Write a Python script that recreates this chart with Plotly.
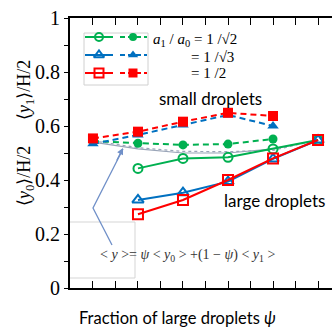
import plotly.graph_objects as go

# ---------------- data ----------------
psi = [0.0, 0.2, 0.4, 0.6, 0.8, 1.0]

# large droplets <y0>/(H/2)  (solid lines, open markers)
y0_green = [None, 0.443, 0.480, 0.484, 0.515, 0.548]
y0_blue = [None, 0.326, 0.353, 0.394, 0.478, 0.548]
y0_red = [None, 0.273, 0.326, 0.400, 0.480, 0.548]

# small droplets <y1>/(H/2)  (dashed lines, filled markers)
y1_green = [0.544, 0.536, 0.530, 0.533, 0.552, None]
y1_blue = [0.534, 0.567, 0.604, 0.641, 0.600, None]
y1_red = [0.554, 0.579, 0.616, 0.649, 0.637, None]

# mixture average <y> (thin grey lines)
avg_a = [0.540, 0.515, 0.500, 0.500, 0.515, 0.548]
avg_b = [0.545, 0.520, 0.506, 0.505, 0.510, 0.548]

ytick_vals = [0, 0.1, 0.2, 0.3, 0.4, 0.5, 0.6, 0.7, 0.8, 0.9, 1.0]
ytick_text = ["0", "", "0.2", "", "0.4", "", "0.6", "", "0.8", "", "1"]

legend_labels = ["<i>a</i><sub>1</sub> / <i>a</i><sub>0</sub> = 1 /√2", "= 1 /√3", "= 1 /2"]

GREEN = "#00b050"
BLUE = "#0070c0"
RED = "#ff0000"
GREY = "#9aa5b8"
ARROW = "#7090c8"

W, H = 332, 330
L, T, B = 70, 18, 42
PW, PH = W - L, H - T - B


def px(x):
    return (x - L) / PW


def py(y):
    return (H - B - y) / PH


fig = go.Figure()

# average lines
fig.add_trace(go.Scatter(x=psi, y=avg_a, mode="lines", line=dict(color=GREY, width=1.2), showlegend=False))
fig.add_trace(go.Scatter(x=psi, y=avg_b, mode="lines", line=dict(color=GREY, width=1.2, dash="dot"), showlegend=False))

series = [
    (y1_green, y0_green, GREEN, "circle", 9),
    (y1_blue, y0_blue, BLUE, "triangle-up", 10),
    (y1_red, y0_red, RED, "square", 10),
]
for y1, y0, col, sym, sz in series:
    fig.add_trace(go.Scatter(x=psi, y=y1, mode="lines+markers",
                             line=dict(color=col, width=2, dash="6px,4px"),
                             marker=dict(symbol=sym, size=sz, color=col, line=dict(width=0)),
                             showlegend=False, connectgaps=False))
for y1, y0, col, sym, sz in series:
    fig.add_trace(go.Scatter(x=psi, y=y0, mode="lines+markers",
                             line=dict(color=col, width=2),
                             marker=dict(symbol=sym + "-open", size=sz, color=col, line=dict(width=2, color=col)),
                             showlegend=False, connectgaps=False))

# ---------- manual legend on an overlay axis in pixel units ----------
leg_rows = [37, 55, 73]
for (y1, y0, col, sym, sz), ry in zip(series, leg_rows):
    fig.add_trace(go.Scatter(x=[85, 99, 113], y=[ry] * 3, xaxis="x2", yaxis="y2",
                             mode="lines", line=dict(color=col, width=2), showlegend=False))
    fig.add_trace(go.Scatter(x=[99], y=[ry], xaxis="x2", yaxis="y2", mode="markers",
                             marker=dict(symbol=sym + "-open", size=sz - 1, color=col,
                                         line=dict(width=2, color=col)), showlegend=False))
    fig.add_trace(go.Scatter(x=[120, 147], y=[ry] * 2, xaxis="x2", yaxis="y2",
                             mode="lines", line=dict(color=col, width=2, dash="5px,3px"), showlegend=False))
    fig.add_trace(go.Scatter(x=[133], y=[ry], xaxis="x2", yaxis="y2", mode="markers",
                             marker=dict(symbol=sym, size=sz - 1, color=col), showlegend=False))

P = dict(xref="x2", yref="y2")
Q = dict(xref="paper", yref="paper")
shapes = [
    dict(type="rect", x0=84, x1=148, y0=85, y1=33, line=dict(color="#d0d0d0", width=1), layer="below", **P),
    dict(type="path", path=f"M {px(70)} {py(222)} L {px(135)} {py(222)} L {px(135)} {py(278)} L {px(70)} {py(278)}",
         line=dict(color="#d5d5d5", width=1), layer="below", **Q),
    dict(type="path", path="M 112 245 L 93 208 L 123 149", line=dict(color=ARROW, width=1.3), **P),
]

serif = "Liberation Serif"
sans = "Lato"


def txt(x, y, text, font, size, xanchor="center", angle=0, color="black"):
    return dict(x=px(x), y=py(y), text=text, showarrow=False, xanchor=xanchor, yanchor="middle",
                textangle=angle, font=dict(family=font, size=size, color=color), **Q)


annotations = [
    dict(x=123, y=148, ax=116, ay=162, axref="x2", ayref="y2", text="", showarrow=True, arrowhead=2,
         arrowsize=1, arrowwidth=1.3, arrowcolor=ARROW, **P),
    txt(151, 40, legend_labels[0], serif, 15, "left"),
    txt(189, 57, legend_labels[1], serif, 15, "left"),
    txt(189, 73, legend_labels[2], serif, 15, "left"),
    txt(210, 98, "small droplets", sans, 17),
    txt(274, 200, "large droplets", sans, 17),
    txt(187, 255, "< <i>y</i> >= <i>ψ</i> < <i>y</i><sub>0</sub> > +(1 − <i>ψ</i>) < <i>y</i><sub>1</sub> >",
        serif, 14, color="#333"),
    txt(177, 318, "Fraction of large droplets <i>ψ</i>", sans, 16.5),
    txt(25, 90, "⟨<i>y</i><sub>1</sub>⟩/H/2", serif, 18, angle=-90),
    txt(25, 176, "⟨<i>y</i><sub>0</sub>⟩/H/2", serif, 18, angle=-90),
]

fig.update_layout(
    width=W, height=H,
    margin=dict(l=L, r=0, t=T, b=B),
    paper_bgcolor="white", plot_bgcolor="white",
    showlegend=False,
    shapes=shapes, annotations=annotations,
    xaxis=dict(range=[-0.102, 1.062], showgrid=False, zeroline=False, showline=True, linecolor="black",
               linewidth=2, mirror="ticks", ticks="inside", ticklen=7, tickwidth=1, tickcolor="black",
               tick0=0, dtick=0.1, showticklabels=False),
    yaxis=dict(range=[0, 1], showgrid=False, zeroline=False, showline=True, linecolor="black", linewidth=2,
               ticks="outside", ticklen=4, tickwidth=1, tickcolor="black",
               tickvals=ytick_vals, ticktext=ytick_text,
               tickfont=dict(family=serif, size=20, color="black")),
    xaxis2=dict(range=[L, W], overlaying="x", visible=False, fixedrange=True, autorange=False),
    yaxis2=dict(range=[H - B, T], overlaying="y", visible=False, fixedrange=True, autorange=False),
)

fig.write_html("out.html", config={"displayModeBar": False},
               post_script="document.body.style.margin='0';document.body.style.overflow='hidden';")
